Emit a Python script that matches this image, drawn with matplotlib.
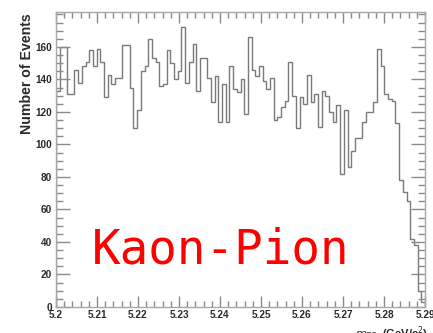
import numpy as np
import matplotlib
matplotlib.use("Agg")
import matplotlib.pyplot as plt
from matplotlib.ticker import MultipleLocator, FixedLocator

# ---- data ----
x_min = 5.20
x_max = 5.29
n_bins = 100
counts = [133, 160, 160, 131, 131, 146, 138, 148, 151, 158,
          148, 159, 151, 129, 143, 137, 141, 141, 161, 161,
          135, 110, 121, 145, 148, 165, 153, 151, 136, 137,
          158, 150, 140, 145, 172, 138, 151, 162, 133, 153,
          153, 141, 126, 142, 114, 137, 114, 148, 134, 132,
          140, 119, 166, 146, 142, 148, 139, 134, 141, 115,
          117, 123, 127, 151, 130, 110, 129, 125, 143, 126,
          131, 111, 133, 130, 120, 114, 124, 82, 121, 86,
          96, 104, 104, 114, 120, 120, 126, 159, 148, 131,
          128, 127, 113, 78, 71, 65, 42, 38, 10, 3]
x_ticks = [5.20, 5.21, 5.22, 5.23, 5.24, 5.25, 5.26, 5.27, 5.28, 5.29]
x_tick_labels = ["5.2", "5.21", "5.22", "5.23", "5.24", "5.25", "5.26", "5.27", "5.28", "5.29"]
y_ticks = [0, 20, 40, 60, 80, 100, 120, 140, 160]
y_max = 181.5
title_text = "Kaon-Pion"
y_title = "Number of Events"
x_title = r"$m_{ES}$  (GeV/c$^{2}$)"

W, H = 433, 333
fig = plt.figure(figsize=(W / 100, H / 100), dpi=100)
ax = fig.add_axes([56 / W, 1 - 307 / H, (425 - 56) / W, (307 - 12) / H])

edges = np.linspace(x_min, x_max, n_bins + 1)
ax.stairs(counts, edges, baseline=0, color="#7a7a7a", lw=1.0)

ax.set_xlim(x_min, x_max)
ax.set_ylim(0, y_max)

for s in ax.spines.values():
    s.set_color("#a8a8a8")
    s.set_linewidth(1.0)

ax.xaxis.set_major_locator(FixedLocator(x_ticks))
ax.set_xticklabels(x_tick_labels)
ax.xaxis.set_minor_locator(MultipleLocator(0.002))
ax.yaxis.set_major_locator(FixedLocator(y_ticks))
ax.yaxis.set_minor_locator(MultipleLocator(5))

ax.tick_params(which="both", direction="in", top=True, right=True,
               color="#8a8a8a", width=1.0)
ax.tick_params(axis="x", which="major", length=8, pad=2)
ax.tick_params(axis="x", which="minor", length=4)
ax.tick_params(axis="y", which="major", length=10, pad=3)
ax.tick_params(axis="y", which="minor", length=5)

for lab in ax.get_xticklabels() + ax.get_yticklabels():
    lab.set_fontfamily("Liberation Sans")
    lab.set_fontweight("bold")
    lab.set_fontsize(7.2)
    lab.set_color("#2a2a2a")

fig.text(27 / W, 1 - 13 / H, y_title, rotation=90, ha="center", va="top",
         fontsize=10.2, fontweight="bold", family="Liberation Sans", color="#2a2a2a")
fig.text(428 / W, 1 - 324 / H, x_title, ha="right", va="top",
         fontsize=8, fontweight="bold", family="Liberation Sans", color="#2a2a2a")

fig.text(92 / W, 1 - 263 / H, title_text, ha="left", va="baseline",
         fontsize=34.3, family="DejaVu Sans Mono", color="#ff0000")

fig.savefig("out.png", dpi=100)
